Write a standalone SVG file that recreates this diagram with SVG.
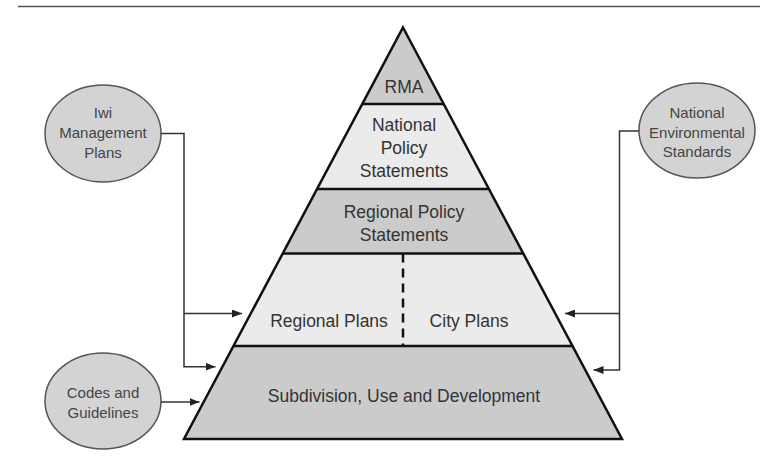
<svg xmlns="http://www.w3.org/2000/svg" width="760" height="475" viewBox="0 0 760 475">
<style>
  .dark { fill: #cbcbcb; }
  .light { fill: #ebebeb; }
  .edge { stroke: #111; stroke-width: 2.5; fill: none; stroke-linejoin: miter; }
  .ptext { font-family: "Liberation Sans", Arial, sans-serif; font-size: 17.5px; fill: #333; text-anchor: middle; }
  .etext { font-family: "Liberation Sans", Arial, sans-serif; font-size: 15px; fill: #444; text-anchor: middle; }
  .ell { fill: #d3d3d3; stroke: #555; stroke-width: 1.5; }
  .conn { stroke: #333; stroke-width: 1.5; fill: none; }
</style>
<defs>
  <marker id="arrow" viewBox="0 0 10 8" refX="10" refY="4" markerWidth="10" markerHeight="8" markerUnits="userSpaceOnUse" orient="auto">
    <path d="M0,0 L10,4 L0,8 Z" fill="#222"/>
  </marker>
</defs>
<rect width="760" height="475" fill="#ffffff"/>
<line x1="18" y1="6.5" x2="760" y2="6.5" stroke="#555" stroke-width="1.5"/>

<g id="layer-rma">
  <polygon class="dark" points="403,27.5 443.7,104 362.3,104"/>
  <text class="ptext" x="404" y="93">RMA</text>
</g>
<g id="layer-nps">
  <polygon class="light" points="362.3,104 443.7,104 489,189 317,189"/>
  <text class="ptext" x="404" y="131">National</text>
  <text class="ptext" x="404" y="154">Policy</text>
  <text class="ptext" x="404" y="177">Statements</text>
</g>
<g id="layer-rps">
  <polygon class="dark" points="317,189 489,189 523.3,253.5 282.7,253.5"/>
  <text class="ptext" x="404" y="218">Regional Policy</text>
  <text class="ptext" x="404" y="241">Statements</text>
</g>
<g id="layer-plans">
  <polygon class="light" points="282.7,253.5 523.3,253.5 572.5,346 233.5,346"/>
  <line x1="403" y1="253.5" x2="403" y2="346" stroke="#111" stroke-width="2.5" stroke-dasharray="9,6"/>
  <text class="ptext" x="329" y="327">Regional Plans</text>
  <text class="ptext" x="469" y="327">City Plans</text>
</g>
<g id="layer-sud">
  <polygon class="dark" points="233.5,346 572.5,346 622,439 184,439"/>
  <text class="ptext" x="404" y="402">Subdivision, Use and Development</text>
</g>
<g id="pyramid-outline">
  <polygon class="edge" points="403,27.5 622,439 184,439"/>
  <line class="edge" x1="362.3" y1="104" x2="443.7" y2="104"/>
  <line class="edge" x1="317" y1="189" x2="489" y2="189"/>
  <line class="edge" x1="282.7" y1="253.5" x2="523.3" y2="253.5"/>
  <line class="edge" x1="233.5" y1="346" x2="572.5" y2="346"/>
</g>

<g id="iwi">
  <ellipse class="ell" cx="103" cy="133.5" rx="58" ry="48.5"/>
  <text class="etext" x="103" y="118">Iwi</text>
  <text class="etext" x="103" y="138">Management</text>
  <text class="etext" x="103" y="158">Plans</text>
</g>
<g id="nes">
  <ellipse class="ell" cx="697" cy="130.5" rx="58" ry="47.5"/>
  <text class="etext" x="697" y="118">National</text>
  <text class="etext" x="697" y="138">Environmental</text>
  <text class="etext" x="697" y="157">Standards</text>
</g>
<g id="codes">
  <ellipse class="ell" cx="103" cy="401" rx="58" ry="48"/>
  <text class="etext" x="103" y="398">Codes and</text>
  <text class="etext" x="103" y="418">Guidelines</text>
</g>

<g id="connectors">
  <polyline class="conn" points="161,133.5 184,133.5 184,366.7 215.5,366.7" marker-end="url(#arrow)"/>
  <line class="conn" x1="184" y1="313.5" x2="242" y2="313.5" marker-end="url(#arrow)"/>
  <line class="conn" x1="161" y1="402" x2="199.5" y2="402" marker-end="url(#arrow)"/>
  <polyline class="conn" points="639,131 619.5,131 619.5,370 593.5,370" marker-end="url(#arrow)"/>
  <line class="conn" x1="619.5" y1="313.5" x2="565" y2="313.5" marker-end="url(#arrow)"/>
</g>
</svg>
